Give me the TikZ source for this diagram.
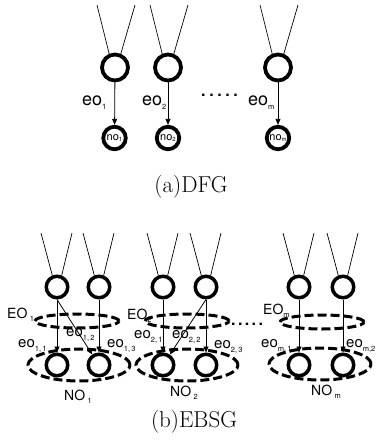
\documentclass[tikz,border=0pt]{standalone}
\usepackage{fontspec}
\newfontfamily\hel{TeX Gyre Heros}
\usetikzlibrary{arrows.meta,shapes.geometric}
\newcommand{\lsub}[1]{\raisebox{-0.45ex}{\fontsize{7.5}{8}\selectfont #1}}
\newcommand{\isub}[1]{\raisebox{-0.3ex}{\fontsize{6}{6}\selectfont #1}}
\begin{document}
\begin{tikzpicture}[x=1pt,y=-1pt,
  bigA/.style={circle,draw,line width=3.8pt,minimum size=26pt,inner sep=0pt,fill=white},
  smallA/.style={circle,draw,line width=3.8pt,minimum size=22.5pt,inner sep=0pt,fill=white,
     font=\hel\fontsize{11}{11}\selectfont},
  cir/.style={circle,draw,line width=3.5pt,minimum size=21.5pt,inner sep=0pt,fill=white},
  feed/.style={line width=0.7pt},
  arr/.style={line width=0.8pt,-{Triangle[length=6pt,width=5pt]}},
  eoell/.style={ellipse,draw,dashed,dash pattern=on 9pt off 4pt,line width=3pt,
     minimum width=84pt,minimum height=14pt,inner sep=0pt},
  noell/.style={ellipse,draw,dashed,dash pattern=on 9pt off 4pt,line width=3pt,
     minimum width=102pt,minimum height=32pt,inner sep=0pt},
  lblA/.style={anchor=west,inner sep=0pt,font=\hel\fontsize{18}{18}\selectfont},
  lblB/.style={anchor=west,inner sep=0pt,font=\hel\fontsize{15}{15}\selectfont},
  lblC/.style={anchor=west,inner sep=0pt,font=\hel\fontsize{14}{14}\selectfont},
  dots/.style={anchor=west,inner sep=0pt,font=\hel\bfseries\fontsize{16}{16}\selectfont},
  capt/.style={anchor=base,inner sep=0pt,font=\fontsize{23}{26}\selectfont}
]
\useasboundingbox (0,0) rectangle (377,444);

% ---------------- (a) DFG ----------------
\foreach \n/\x in {1/115,2/168,3/278}{
  \node[bigA] (ta\n) at (\x,67.5) {};
  \coordinate (ta\n l) at (\x-18,5);
  \coordinate (ta\n r) at (\x+20,5);
  \draw[feed] (ta\n l) -- (ta\n.113);
  \draw[feed] (ta\n r) -- (ta\n.67);
}
\node[smallA] (na1) at (114.5,138) {no\isub{1}};
\node[smallA] (na2) at (168,138) {no\isub{2}};
\node[smallA] (na3) at (278,138) {no\isub{m}};
\draw[arr] (ta1) -- (na1);
\draw[arr] (ta2) -- (na2);
\draw[arr] (ta3) -- (na3);
\node[lblA] (la1) at (82,103) {eo\lsub{1}};
\node[lblA] (la2) at (142,103) {eo\lsub{2}};
\node[lblA] (la3) at (248,103) {eo\lsub{m}};
\node[dots] (da) at (201,95) {.\kern3.6pt.\kern3.6pt.\kern3.6pt.\kern3.6pt.};
\node[capt] (capa) at (191,192) {(a)DFG};

% ---------------- (b) EBSG ----------------
\node[eoell] (EO1) at (77,321) {};
\node[eoell] (EO2) at (187,321) {};
\node[eoell] (EOm) at (322,322) {};
\node[noell] (NO1) at (79,365) {};
\node[noell] (NO2) at (187,365) {};
\node[noell] (NOm) at (320,364) {};

\foreach \n/\x in {11/57,12/99,21/163,22/206,m1/299,m2/343}{
  \node[cir] (tb\n) at (\x,287) {};
  \node[cir] (bb\n) at (\x,365) {};
  \coordinate (tb\n l) at (\x-16,233);
  \coordinate (tb\n r) at (\x+15,233);
  \draw[feed] (tb\n l) -- (tb\n.112);
  \draw[feed] (tb\n r) -- (tb\n.68);
  \draw[arr] (tb\n) -- (bb\n);
}
\draw[arr] (tb11.south) -- (bb12);
\draw[arr] (tb22.south) -- (bb21);

\node[lblC] (lEO1) at (7,315) {EO\,\lsub{1}};
\node[lblC] (lEO2) at (127,316) {EO\lsub{2}};
\node[lblC] (lEOm) at (263,311) {EO\lsub{m}};
\node[lblB] (l12) at (66,335) {eo\lsub{1,\,2}};
\node[lblB] (l11) at (18,346) {eo\lsub{1,\,1}};
\node[lblB] (l13) at (107,346) {eo\lsub{1,\,3}};
\node[lblB] (l21) at (134,337) {eo\lsub{2,\,1}};
\node[lblB] (l22) at (172,337) {eo\lsub{2,\,2}};
\node[lblB] (l23) at (214,347) {eo\lsub{2,\,3}};
\node[lblB] (lm1) at (261,346) {eo\lsub{m,\,1}};
\node[lblB] (lm2) at (346,346) {eo\lsub{m,2}};
\node[lblC] (lNO1) at (64,397) {NO\,\lsub{1}};
\node[lblC] (lNO2) at (170,393) {NO\,\lsub{2}};
\node[lblC] (lNOm) at (311,392) {NO\,\lsub{m}};
\node[dots] (db) at (231,324) {.\kern2.4pt.\kern2.4pt.\kern2.4pt.\kern2.4pt.};
\node[capt] (capb) at (194,427) {(b)EBSG};
\end{tikzpicture}
\end{document}
